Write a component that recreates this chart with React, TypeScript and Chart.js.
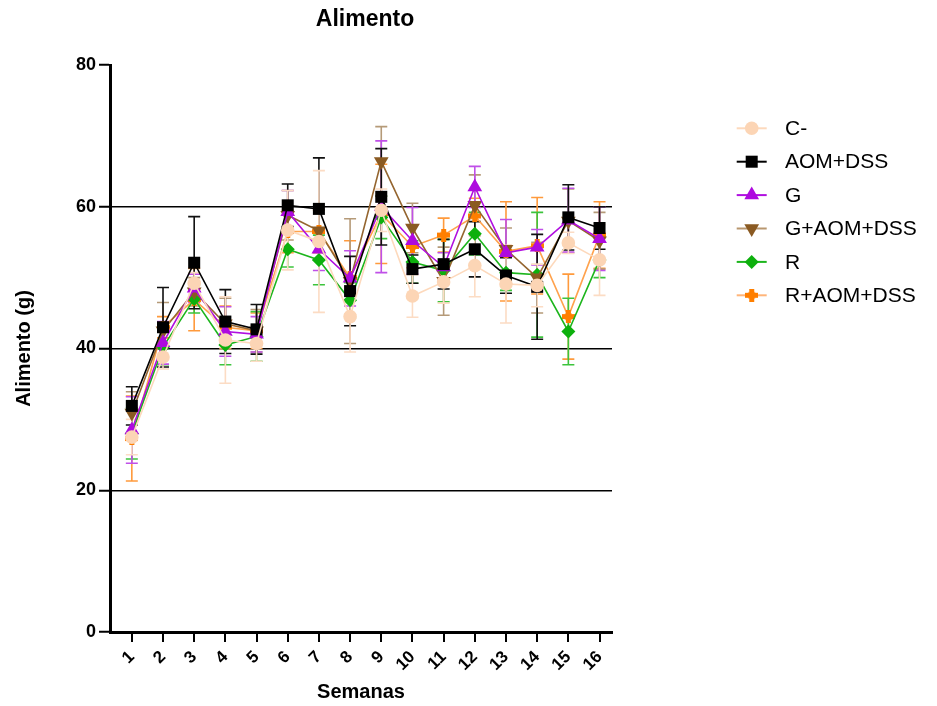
import React, { useEffect, useRef } from 'react';
import { Chart, registerables } from 'chart.js';
import { drawPoint } from 'chart.js/helpers';

Chart.register(...registerables);

const FONT = 'Arial, "Liberation Sans", Helvetica, sans-serif';

const weeks = [1, 2, 3, 4, 5, 6, 7, 8, 9, 10, 11, 12, 13, 14, 15, 16];
const yTicks = [0, 20, 40, 60, 80];
const gridValues = [20, 40, 60];

const seriesNames = ['C-', 'AOM+DSS', 'G', 'G+AOM+DSS', 'R', 'R+AOM+DSS'];

const cNeg = [27.5, 38.8, 49.2, 41.2, 40.7, 56.7, 55.1, 44.5, 59.5, 47.4, 49.4, 51.7, 49.1, 48.9, 54.9, 52.5];
const cNegErr = [2.5, 1.7, 1.5, 6.1, 2.5, 5.6, 10.0, 5.0, 3.0, 3.0, 3.0, 4.4, 5.5, 3.0, 1.5, 5.0];

const aomDss = [31.9, 43.0, 52.1, 43.8, 42.7, 60.2, 59.7, 48.1, 61.4, 51.2, 51.9, 54.0, 50.3, 48.7, 58.5, 57.0];
const aomDssErr = [2.7, 5.6, 6.5, 4.5, 3.5, 3.0, 7.2, 4.9, 6.8, 2.0, 3.5, 3.9, 2.5, 7.4, 4.6, 3.0];

const gVals = [28.5, 40.8, 48.5, 42.4, 42.0, 59.3, 54.0, 49.9, 60.0, 55.2, 51.5, 62.8, 53.5, 54.3, 58.1, 55.5];
const gErr = [4.7, 3.0, 2.0, 3.5, 2.5, 3.0, 3.0, 3.9, 9.3, 4.7, 2.0, 2.9, 4.7, 2.5, 4.5, 4.5];

const gAomDss = [30.9, 42.5, 48.0, 43.5, 42.5, 58.8, 56.6, 49.5, 66.4, 57.0, 49.5, 60.2, 54.0, 50.0, 58.0, 55.2];
const gAomDssErr = [3.0, 4.0, 2.0, 3.6, 3.0, 3.5, 3.0, 8.8, 4.9, 3.5, 4.8, 4.3, 3.0, 5.0, 4.5, 4.0];

const rVals = [28.0, 40.2, 47.0, 40.5, 41.7, 54.0, 52.5, 46.8, 58.5, 52.2, 51.0, 56.2, 50.7, 50.4, 42.4, 52.5];
const rErr = [3.6, 2.5, 2.0, 2.8, 3.5, 2.5, 3.5, 2.5, 3.0, 3.0, 4.4, 3.0, 2.5, 8.8, 4.7, 2.5];

const rAomDss = [27.3, 43.0, 46.9, 43.0, 42.5, 56.5, 56.5, 50.0, 59.0, 54.4, 56.0, 58.7, 53.7, 54.5, 44.5, 56.0];
const rAomDssErr = [6.0, 1.5, 4.4, 3.0, 2.5, 3.0, 3.0, 5.2, 7.0, 3.0, 2.4, 2.5, 7.0, 6.8, 6.0, 4.7];

function makePlus(color: string): HTMLCanvasElement {
  const c = document.createElement('canvas');
  c.width = 13;
  c.height = 13;
  const g = c.getContext('2d')!;
  g.fillStyle = color;
  g.fillRect(4, 0, 5, 13);
  g.fillRect(0, 4, 13, 5);
  g.beginPath();
  g.arc(6.5, 6.5, 4.3, 0, Math.PI * 2);
  g.fill();
  return c;
}

const errorBarsPlugin = {
  id: 'errorBars',
  beforeDatasetsDraw(chart: any) {
    const ctx = chart.ctx;
    const yScale = chart.scales.y;
    const n = chart.data.datasets.length;
    ctx.save();
    for (let i = n - 1; i >= 0; i--) {
      const ds: any = chart.data.datasets[i];
      const meta = chart.getDatasetMeta(i);
      const errs: number[] = ds.errorBars || [];
      ctx.strokeStyle = ds.errorColor || ds.borderColor;
      ctx.lineWidth = 1.6;
      meta.data.forEach((pt: any, j: number) => {
        const v = ds.data[j].y;
        const e = errs[j];
        if (e == null) return;
        const x = pt.x;
        const yt = yScale.getPixelForValue(v + e);
        const yb = yScale.getPixelForValue(v - e);
        ctx.beginPath();
        ctx.moveTo(x, yt);
        ctx.lineTo(x, yb);
        ctx.moveTo(x - 6, yt);
        ctx.lineTo(x + 6, yt);
        ctx.moveTo(x - 6, yb);
        ctx.lineTo(x + 6, yb);
        ctx.stroke();
      });
    }
    ctx.restore();
  },
};

const titleLegendPlugin = {
  id: 'titleLegend',
  afterDraw(chart: any) {
    const ctx = chart.ctx;
    const area = chart.chartArea;
    ctx.save();
    ctx.fillStyle = '#000';
    ctx.font = `bold 23px ${FONT}`;
    ctx.textAlign = 'center';
    ctx.textBaseline = 'middle';
    ctx.fillText('Alimento', (area.left + area.right) / 2 + 4, 12);

    const lx0 = 728.7;
    const lx1 = 758.7;
    const mx = 743.7;
    const textX = 777;
    const y0 = 120.3;
    const dy = 33.4;
    chart.data.datasets.forEach((ds: any, i: number) => {
      const y = y0 + i * dy;
      ctx.strokeStyle = ds.legendLineColor || ds.borderColor;
      ctx.lineWidth = 2;
      ctx.beginPath();
      ctx.moveTo(lx0, y);
      ctx.lineTo(lx1, y);
      ctx.stroke();
      ctx.fillStyle = ds.pointBackgroundColor;
      ctx.strokeStyle = ds.pointBorderColor;
      drawPoint(ctx, {
        pointStyle: ds.pointStyle,
        radius: ds.pointRadius,
        rotation: ds.pointRotation || 0,
        borderWidth: 0,
      } as any, mx, y);
      ctx.fillStyle = '#000';
      ctx.font = `21px ${FONT}`;
      ctx.textAlign = 'left';
      ctx.textBaseline = 'middle';
      ctx.fillText(ds.label, textX, y + 1);
    });
    ctx.restore();
  },
};

export default function App() {
  const ref = useRef<HTMLCanvasElement>(null);

  useEffect(() => {
    document.documentElement.style.overflow = 'hidden';
    document.body.style.overflow = 'hidden';
    const canvas = ref.current;
    if (!canvas) return;

    const pts = (vals: number[]) => weeks.map((w, i) => ({ x: w, y: vals[i] }));
    const plusImg = makePlus('#FF7F00');

    const datasets: any[] = [
      {
        label: seriesNames[0], data: pts(cNeg), errorBars: cNegErr,
        borderColor: '#FDD9BC', errorColor: '#FCDCC4', legendLineColor: '#FDD9BC',
        pointBackgroundColor: '#FCD5B5', pointBorderColor: '#FCD5B5',
        pointStyle: 'circle', pointRadius: 6.8,
      },
      {
        label: seriesNames[1], data: pts(aomDss), errorBars: aomDssErr,
        borderColor: '#000000', errorColor: '#111111', legendLineColor: '#000000',
        pointBackgroundColor: '#000000', pointBorderColor: '#000000',
        pointStyle: 'rect', pointRadius: 8.5,
      },
      {
        label: seriesNames[2], data: pts(gVals), errorBars: gErr,
        borderColor: '#B00FE0', errorColor: '#C050E8', legendLineColor: '#B00FE0',
        pointBackgroundColor: '#AE0ADF', pointBorderColor: '#AE0ADF',
        pointStyle: 'triangle', pointRadius: 8.5,
      },
      {
        label: seriesNames[3], data: pts(gAomDss), errorBars: gAomDssErr,
        borderColor: '#94652F', errorColor: '#B59A78', legendLineColor: '#B8976F',
        pointBackgroundColor: '#8A5A22', pointBorderColor: '#8A5A22',
        pointStyle: 'triangle', pointRotation: 180, pointRadius: 8.5,
      },
      {
        label: seriesNames[4], data: pts(rVals), errorBars: rErr,
        borderColor: '#1CB51C', errorColor: '#3CC43C', legendLineColor: '#1CB51C',
        pointBackgroundColor: '#0DB00D', pointBorderColor: '#0DB00D',
        pointStyle: 'rectRot', pointRadius: 7,
      },
      {
        label: seriesNames[5], data: pts(rAomDss), errorBars: rAomDssErr,
        borderColor: '#FFA24D', errorColor: '#FF9A3C', legendLineColor: '#FFB57A',
        pointBackgroundColor: '#FF7F00', pointBorderColor: '#FF7F00',
        pointStyle: plusImg, pointRadius: 6.5,
      },
    ];
    datasets.forEach((d) => {
      d.borderWidth = 1.6;
      d.pointBorderWidth = 0;
      d.pointHoverRadius = d.pointRadius;
      d.tension = 0;
      d.fill = false;
    });

    const chart = new Chart(canvas, {
      type: 'line',
      data: { datasets },
      plugins: [errorBarsPlugin, titleLegendPlugin],
      options: {
        animation: false,
        responsive: false,
        devicePixelRatio: 1,
        layout: { padding: { top: 57, right: 317, left: 0, bottom: 0 } },
        plugins: {
          legend: { display: false },
          title: { display: false },
          tooltip: { enabled: false },
        },
        scales: {
          x: {
            type: 'linear',
            min: 0.3,
            max: 16.4,
            afterBuildTicks: (s: any) => {
              s.ticks = weeks.map((v) => ({ value: v }));
            },
            afterFit: (s: any) => {
              s.height = 74;
            },
            grid: {
              drawOnChartArea: false,
              color: '#000',
              tickColor: '#000',
              tickLength: 10,
              tickWidth: 2,
              lineWidth: 2,
            },
            border: { color: '#000', width: 3 },
            ticks: {
              color: '#000',
              font: { family: FONT, size: 17, weight: 'bold' },
              minRotation: 45,
              maxRotation: 45,
              autoSkip: false,
              padding: 5,
              callback: (v: any) => String(v),
            },
            title: {
              display: true,
              text: 'Semanas',
              color: '#000',
              font: { family: FONT, size: 20, weight: 'bold' },
              padding: { top: 2, bottom: 2 },
            },
          },
          y: {
            type: 'linear',
            min: 0,
            max: 80,
            afterBuildTicks: (s: any) => {
              s.ticks = yTicks.map((v) => ({ value: v }));
            },
            afterFit: (s: any) => {
              s.width = 102;
            },
            grid: {
              color: (c: any) => (c.tick && gridValues.includes(c.tick.value) ? '#000' : 'rgba(0,0,0,0)'),
              tickColor: '#000',
              lineWidth: 1.5,
              tickWidth: 2,
              tickLength: 11,
            },
            border: { color: '#000', width: 3 },
            ticks: {
              color: '#000',
              font: { family: FONT, size: 18, weight: 'bold' },
              padding: 3,
            },
            title: {
              display: true,
              text: 'Alimento (g)',
              color: '#000',
              font: { family: FONT, size: 20, weight: 'bold' },
              padding: { top: 4, bottom: 4 },
            },
          },
        },
      } as any,
    });

    return () => chart.destroy();
  }, []);

  return (
    <div style={{ width: 921, height: 698 }}>
      <canvas ref={ref} width={921} height={698} style={{ display: 'block', width: 921, height: 698 }} />
    </div>
  );
}
